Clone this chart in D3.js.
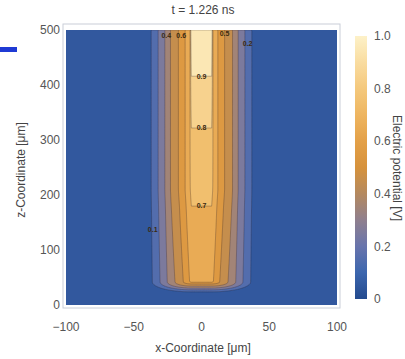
<!DOCTYPE html>
<html>
<head>
<meta charset="utf-8">
<script src="https://cdn.jsdelivr.net/npm/d3@7"></script>
<style>
  body { margin: 0; background: #fff; }
  svg { display: block; font-family: "Liberation Sans", Arial, sans-serif; }
  .tick-label { fill: #555; font-size: 12px; }
  .axis-title { fill: #444; font-size: 12px; }
  .clabel { fill: #3a2a10; font-size: 7px; font-weight: bold; }
</style>
</head>
<body>
<div id="chart"></div>
<script>
// ---- data ----
const xTicks = [-100, -50, 0, 50, 100];
const zTicks = [0, 100, 200, 300, 400, 500];
const barTicks = [0, 0.2, 0.4, 0.6, 0.8, 1.0];
const levels = [0.1, 0.2, 0.3, 0.4, 0.5, 0.6, 0.7, 0.8, 0.9];

// potential on the channel axis vs height (um)
const coreZ = [42, 180, 322, 416, 500];
const coreV = [0.63, 0.70, 0.80, 0.90, 1.00];

// potential vs distance from the axis (um), read across the channel
const ringR = [7.5, 12, 17, 23, 27, 32, 37, 44, 140];
const ringV = [0.72, 0.6, 0.5, 0.4, 0.3, 0.2, 0.1, 0.02, 0.0];

const coreHalf = 7.5;   // channel half width
const tipZ = 42;        // channel tip height
const tipStretch = 1.6; // contours are tighter below the tip

const contourLabels = [
  { t: "0.9", x: 0, z: 416 },
  { t: "0.8", x: 0, z: 322 },
  { t: "0.7", x: 0, z: 180 },
  { t: "0.1", x: -36, z: 137 },
  { t: "0.2", x: 34, z: 476 },
  { t: "0.5", x: 17, z: 493 },
  { t: "0.4", x: -26, z: 490 },
  { t: "0.6", x: -15, z: 490 }
];

// ---- layout ----
const W = 405, H = 359;
const X0 = 66, X1 = 337, ZTOP = 30, ZBOT = 305;

const x = d3.scaleLinear().domain([-100, 100]).range([X0, X1]);
const z = d3.scaleLinear().domain([0, 500]).range([ZBOT, ZTOP]);

const color = d3.scaleLinear()
  .domain([0, 0.1, 0.2, 0.3, 0.4, 0.5, 0.6, 0.7, 0.8, 0.9, 1.0])
  .range(["#234a8e", "#3c66ae", "#6874ac", "#8f7f8e", "#b4895f", "#d6923c",
          "#e3a048", "#eeb560", "#f4c87c", "#f9dca0", "#fdf1c8"])
  .clamp(true);

const svg = d3.select("#chart").append("svg")
  .attr("width", W).attr("height", H);

const defs = svg.append("defs");
defs.append("filter").attr("id", "soft")
  .append("feGaussianBlur").attr("stdDeviation", 0.6);

// stray blue dash at the left edge
svg.append("rect").attr("x", 0).attr("y", 47).attr("width", 17).attr("height", 5)
  .attr("fill", "#1f3ad4");

// ---- field ----
const vCore = d3.scaleLinear().domain(coreZ).range(coreV).clamp(true);
const vRing = d3.scaleLinear().domain(ringR).range(ringV).clamp(true);

const nx = 200, nz = 250, dx = 200 / nx, dz = 500 / nz;
const values = new Array(nx * nz);
for (let j = 0; j < nz; j++) {
  const zz = 500 - (j + 0.5) * dz;
  for (let i = 0; i < nx; i++) {
    const xx = -100 + (i + 0.5) * dx;
    const ax = Math.abs(xx);
    let v;
    if (ax <= coreHalf && zz >= tipZ) {
      v = vCore(zz);
    } else {
      const ox = Math.max(ax - coreHalf, 0);
      const oz = zz < tipZ ? (tipZ - zz) * tipStretch : 0;
      const r = coreHalf + Math.hypot(ox, oz);
      v = vRing(r) * Math.min(1, vCore(Math.max(zz, tipZ)) / ringV[0]);
    }
    values[i + j * nx] = v;
  }
}

const proj = d3.geoTransform({
  point(px, py) {
    this.stream.point(x(-100 + px * dx), z(500 - py * dz));
  }
});
const path = d3.geoPath(proj);
const contours = d3.contours().size([nx, nz]).thresholds(levels)(values);

defs.append("clipPath").attr("id", "plotclip")
  .append("rect")
  .attr("x", X0).attr("y", ZTOP)
  .attr("width", X1 - X0).attr("height", ZBOT - ZTOP);

const $plot = svg.append("g").attr("class", "plot")
  .attr("clip-path", "url(#plotclip)");
const $field = $plot.append("g").attr("filter", "url(#soft)");
$field.append("rect")
  .attr("x", X0 - 5).attr("y", ZTOP - 5)
  .attr("width", X1 - X0 + 10).attr("height", ZBOT - ZTOP + 10)
  .attr("fill", color(0.05));

$field.selectAll("path.band")
  .data(contours)
  .join("path")
  .attr("class", "band")
  .attr("d", path)
  .attr("fill", d => color(d.value + 0.05))
  .attr("stroke", "rgba(40,30,40,0.4)")
  .attr("stroke-width", 0.7);

$plot.selectAll("text.clabel")
  .data(contourLabels)
  .join("text")
  .attr("class", "clabel")
  .attr("x", d => x(d.x))
  .attr("y", d => z(d.z))
  .attr("dy", "0.35em")
  .attr("text-anchor", "middle")
  .text(d => d.t);

// frame
svg.append("rect")
  .attr("x", X0 - 3).attr("y", ZTOP - 6)
  .attr("width", X1 - X0 + 6).attr("height", ZBOT - ZTOP + 9)
  .attr("fill", "none").attr("stroke", "#c9ced8").attr("stroke-width", 1);

// ---- axes ----
svg.append("g").selectAll("text")
  .data(xTicks).join("text")
  .attr("class", "tick-label")
  .attr("x", d => x(d)).attr("y", 331)
  .attr("text-anchor", "middle")
  .text(d => d < 0 ? "\u2212" + Math.abs(d) : d);

svg.append("g").selectAll("text")
  .data(zTicks).join("text")
  .attr("class", "tick-label")
  .attr("x", 60).attr("y", d => z(d)).attr("dy", "0.35em")
  .attr("text-anchor", "end")
  .text(d => d);

svg.append("text").attr("class", "axis-title")
  .attr("x", 203).attr("y", 14).attr("text-anchor", "middle")
  .text("t = 1.226 ns");

svg.append("text").attr("class", "axis-title")
  .attr("x", 203).attr("y", 352).attr("text-anchor", "middle")
  .text("x-Coordinate [\u03bcm]");

svg.append("text").attr("class", "axis-title")
  .attr("transform", "translate(25,170) rotate(-90)")
  .attr("text-anchor", "middle")
  .text("z-Coordinate [\u03bcm]");

// ---- colour bar ----
const bar = d3.scaleLinear().domain([0, 1]).range([299, 36]);
const grad = defs.append("linearGradient")
  .attr("id", "cbar").attr("x1", 0).attr("y1", 1).attr("x2", 0).attr("y2", 0);
grad.selectAll("stop")
  .data(d3.range(0, 1.0001, 0.05))
  .join("stop")
  .attr("offset", d => d)
  .attr("stop-color", d => color(d));

svg.append("rect")
  .attr("x", 355).attr("y", bar(1))
  .attr("width", 12).attr("height", bar(0) - bar(1))
  .attr("fill", "url(#cbar)");

svg.append("g").selectAll("text")
  .data(barTicks).join("text")
  .attr("class", "tick-label")
  .attr("x", 374).attr("y", d => bar(d)).attr("dy", "0.35em")
  .text(d => d === 0 ? "0" : d.toFixed(1));

svg.append("text").attr("class", "axis-title")
  .attr("transform", "translate(393,168) rotate(90)")
  .attr("text-anchor", "middle")
  .text("Electric potential [V]");
</script>
</body>
</html>
